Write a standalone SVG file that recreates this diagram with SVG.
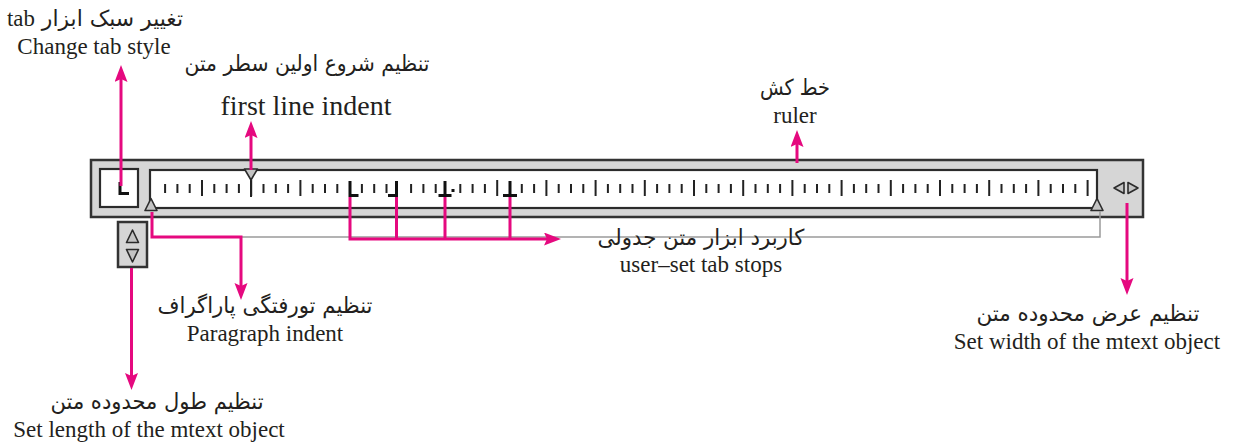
<svg xmlns="http://www.w3.org/2000/svg" width="1235" height="445" viewBox="0 0 1235 445">
<style>
.en{font-family:"Liberation Serif","Times New Roman",serif;font-size:23px;fill:#231f20;text-anchor:middle}
.big{font-size:28px}
.fa{font-family:"DejaVu Sans","Noto Sans",sans-serif;font-size:22px;fill:#231f20;text-anchor:middle}
.frame{fill:#d6d6d6;stroke:#333;stroke-width:2.5}
.white{fill:#fff;stroke:#2b2b2b;stroke-width:2.2}
.tri{fill:#c4c4c4;stroke:#2b2b2b;stroke-width:1.6;stroke-linejoin:round}
.tk{stroke:#222;stroke-width:2}
.tab{stroke:#111;stroke-width:3;fill:none}
.con{stroke:#e5097f;stroke-width:3;fill:none;stroke-linejoin:miter}
.arr{marker-end:url(#ah)}
</style>
<defs>
<marker id="ah" markerUnits="userSpaceOnUse" markerWidth="18" markerHeight="14" refX="5" refY="6.5" orient="auto">
<path d="M0,0 L17,6.5 L0,13 L3,6.5 z" fill="#e5097f"/>
</marker>
</defs>

<g id="ruler-bar">
<rect class="frame" x="91" y="160" width="1052" height="57"/>
<rect class="white" x="100" y="169" width="38" height="38"/>
<path class="tab" d="M120,182 V193.5 H129"/>
<rect class="white" x="150" y="170" width="947" height="38"/>
<g id="ticks">
<path class="tk" d="M165.1,184V193M177.4,184V193M189.7,184V193M202,180V196M214.3,184V193M226.6,184V193M238.9,184V193M251.2,180V196M263.5,184V193M275.8,184V193M288.1,184V193M300.4,180V196M312.7,184V193M325,184V193M337.3,184V193M361.9,184V193M374.2,184V193M386.5,184V193M411.1,184V193M423.4,184V193M435.7,184V193M460.3,184V193M472.6,184V193M484.9,184V193M497.2,180V196M521.8,184V193M534.1,184V193M546.4,180V196M558.7,184V193M571,184V193M583.3,184V193M595.6,180V196M607.9,184V193M620.2,184V193M632.5,184V193M644.8,180V196M657.1,184V193M669.4,184V193M681.7,184V193M694,180V196M706.3,184V193M718.6,184V193M730.9,184V193M743.2,180V196M755.5,184V193M767.8,184V193M780.1,184V193M792.4,180V196M804.7,184V193M817,184V193M829.3,184V193M841.6,180V196M853.9,184V193M866.2,184V193M878.5,184V193M890.8,180V196M903.1,184V193M915.4,184V193M927.7,184V193M940,180V196M952.3,184V193M964.6,184V193M976.9,184V193M989.2,180V196M1001.5,184V193M1013.8,184V193M1026.1,184V193M1038.4,180V196M1050.7,184V193M1063,184V193M1075.3,184V193M1087.6,180V196"/>
</g>
<g id="tab-stops">
<path class="tab" d="M350,181 V195.5 H358.5"/>
<path class="tab" d="M396.5,181 V195.5 H388"/>
<path class="tab" d="M445,181 V195.5 M438.5,195.5 H451.5"/>
<rect x="451.5" y="189" width="3" height="3" fill="#111"/>
<path class="tab" d="M510,181 V195.5 M503,195.5 H517"/>
</g>
<path class="tk" d="M251,178 V197"/>
<polygon class="tri" points="244.5,169 257.5,169 251,180"/>
<polygon class="tri" points="151,198.5 145,210.5 157,210.5"/>
<polygon class="tri" points="1097,198.5 1091,210.5 1103,210.5"/>
<polygon class="tri" points="1114,188 1124,182.5 1124,193.5"/>
<polygon class="tri" points="1138,188 1128,182.5 1128,193.5"/>
<path d="M152,237 H1100 V211" fill="none" stroke="#9a9a9a" stroke-width="1.5"/>
<rect class="frame" x="118" y="222" width="29" height="45" stroke-width="2"/>
<polygon class="tri" points="132.5,230 126.5,242.5 138.5,242.5"/>
<polygon class="tri" points="126.5,249.5 138.5,249.5 132.5,262"/>
</g>

<g id="connectors">
<path class="con arr" d="M121,186 V77"/>
<path class="con arr" d="M251,170 V133"/>
<path class="con arr" d="M797,163 V142"/>
<path class="con arr" d="M350,197 V239 H549"/>
<path class="con" d="M396.5,197 V239 M445,197 V239 M510,197 V239"/>
<path class="con arr" d="M152,212 V237 H241 V288"/>
<path class="con arr" d="M131.5,268 V378"/>
<path class="con arr" d="M1127,203 V283"/>
</g>

<g id="label-tab-style">
<text class="fa" x="95" y="26" direction="rtl" textLength="176" lengthAdjust="spacingAndGlyphs">تغییر سبک ابزار <tspan font-family="Liberation Serif, serif" font-size="23">tab</tspan></text>
<text class="en" x="94" y="54">Change tab style</text>
</g>
<g id="label-first-line">
<text class="fa" x="307" y="71" direction="rtl" textLength="245" lengthAdjust="spacingAndGlyphs">تنظیم شروع اولین سطر متن</text>
<text class="en big" x="306" y="115">first line indent</text>
</g>
<g id="label-ruler">
<text class="fa" x="795" y="95" direction="rtl" textLength="70" lengthAdjust="spacingAndGlyphs">خط کش</text>
<text class="en" x="795" y="123">ruler</text>
</g>
<g id="label-tab-stops">
<text class="fa" x="701" y="245" direction="rtl" textLength="207" lengthAdjust="spacingAndGlyphs">کاربرد ابزار متن جدولی</text>
<text class="en" x="701" y="272">user–set tab stops</text>
</g>
<g id="label-paragraph">
<text class="fa" x="265" y="313" direction="rtl" textLength="215" lengthAdjust="spacingAndGlyphs">تنظیم تورفتگی پاراگراف</text>
<text class="en" x="265" y="341">Paragraph indent</text>
</g>
<g id="label-length">
<text class="fa" x="157" y="409" direction="rtl" textLength="213" lengthAdjust="spacingAndGlyphs">تنظیم طول محدوده متن</text>
<text class="en" x="149" y="437">Set length of the mtext object</text>
</g>
<g id="label-width">
<text class="fa" x="1088" y="321" direction="rtl" textLength="223" lengthAdjust="spacingAndGlyphs">تنظیم عرض محدوده متن</text>
<text class="en" x="1087" y="349">Set width of the mtext object</text>
</g>
</svg>
